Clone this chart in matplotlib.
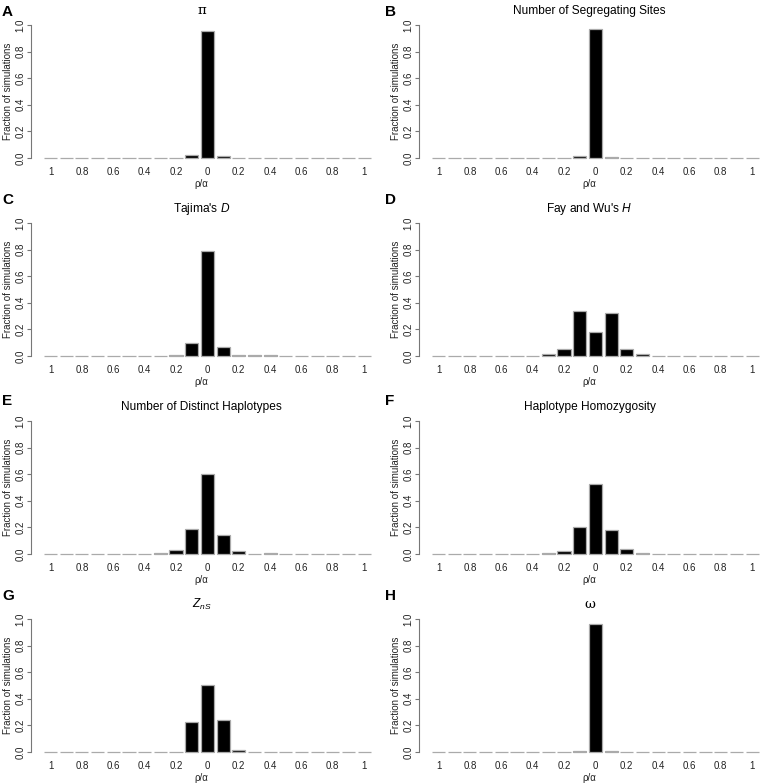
import numpy as np
import matplotlib
matplotlib.use("Agg")
import matplotlib.pyplot as plt

plt.rcParams['font.family'] = ['Liberation Sans', 'DejaVu Sans']
plt.rcParams['mathtext.fontset'] = 'custom'
plt.rcParams['mathtext.rm'] = 'Liberation Sans'
plt.rcParams['mathtext.it'] = 'Liberation Sans:italic'

# rho/alpha bins from -1 to 1 by 0.1
bins = np.round(np.arange(-10, 11) / 10, 1)
tick_labels = ["1", "0.8", "0.6", "0.4", "0.2", "0", "0.2", "0.4", "0.6", "0.8", "1"]

letters = ["A", "B", "C", "D", "E", "F", "G", "H"]
titles = ["π", "Number of Segregating Sites", "Tajima's $D$", "Fay and Wu's $H$",
          "Number of Distinct Haplotypes", "Haplotype Homozygosity", "$Z_{nS}$", "ω"]

pi_frac = [0, 0, 0, 0, 0, 0, 0, 0, 0, 0.025, 0.955, 0.015, 0, 0, 0, 0, 0, 0, 0, 0, 0]
segsites_frac = [0, 0, 0, 0, 0, 0, 0, 0.002, 0, 0.013, 0.968, 0.010, 0.003, 0, 0, 0, 0, 0, 0, 0, 0]
tajima_frac = [0, 0, 0, 0, 0, 0, 0, 0, 0.005, 0.10, 0.79, 0.07, 0.005, 0.004, 0.006, 0, 0, 0, 0, 0, 0.003]
faywu_frac = [0, 0, 0, 0, 0, 0, 0.003, 0.013, 0.055, 0.34, 0.18, 0.327, 0.05, 0.013, 0.001, 0, 0.001, 0, 0, 0, 0]
nhap_frac = [0, 0, 0, 0, 0, 0, 0.003, 0.01, 0.03, 0.19, 0.60, 0.14, 0.02, 0.003, 0.004, 0, 0, 0, 0, 0, 0]
hhom_frac = [0, 0, 0, 0, 0, 0, 0, 0.005, 0.025, 0.20, 0.53, 0.18, 0.035, 0.005, 0.003, 0, 0, 0, 0, 0, 0]
zns_frac = [0, 0, 0, 0, 0, 0, 0, 0, 0.003, 0.224, 0.506, 0.237, 0.013, 0.002, 0, 0, 0, 0, 0, 0, 0]
omega_frac = [0, 0, 0, 0, 0, 0, 0.001, 0.002, 0.001, 0.004, 0.96, 0.004, 0.002, 0, 0, 0, 0, 0.002, 0, 0, 0]

series = [pi_frac, segsites_frac, tajima_frac, faywu_frac, nhap_frac, hhom_frac, zns_frac, omega_frac]

W, H = 760, 783
fig = plt.figure(figsize=(W / 100, H / 100), dpi=100)

col_left = [31, 419]
ax_w = 341
row_step = 198
letter_x = [2, 385]
letter_y = [12, 200, 401, 596]

# barplot-like positions (width 1, space 0.2)
xpos = 0.7 + 1.2 * np.arange(len(bins))

for k, vals in enumerate(series):
    r, c = divmod(k, 2)
    top = 19.7 + row_step * r
    bot = 163.3 + row_step * r
    ax = fig.add_axes([col_left[c] / W, 1 - bot / H, ax_w / W, (bot - top) / H])
    ax.bar(xpos, vals, width=1, color="black", edgecolor="#aaaaaa", linewidth=0.9)
    ax.set_xlim(-0.8, 25.3)
    ax.set_ylim(-0.04, 1.04)
    for s in ["top", "right", "bottom"]:
        ax.spines[s].set_visible(False)
    ax.spines["left"].set_bounds(0, 1)
    ax.spines["left"].set_color("#777777")
    ax.spines["left"].set_linewidth(0.8)
    ax.set_yticks([0, 0.2, 0.4, 0.6, 0.8, 1.0])
    ax.set_yticklabels(["0.0", "0.2", "0.4", "0.6", "0.8", "1.0"], rotation=90, va="center")
    ax.tick_params(axis="y", length=3, width=0.8, color="#777777", labelsize=7, pad=1,
                   labelcolor="#222222")
    ax.set_xticks(xpos[::2])
    ax.set_xticklabels(tick_labels)
    ax.tick_params(axis="x", length=0, labelsize=7, pad=3, labelcolor="#222222")
    ax.set_ylabel("Fraction of simulations", fontsize=7, labelpad=2, color="#222222")
    ax.set_xlabel("ρ/α", fontsize=7, labelpad=1, color="#222222")
    if titles[k] in ("π", "ω"):
        ax.set_title(titles[k], fontsize=9.5, pad=4, family=["DejaVu Serif"])
    else:
        ax.set_title(titles[k], fontsize=8.6, pad=4)
    fig.text(letter_x[c] / W, 1 - letter_y[r] / H, letters[k], fontsize=11,
             fontweight="bold", va="center", ha="left")

fig.savefig("out.png", dpi=100)
